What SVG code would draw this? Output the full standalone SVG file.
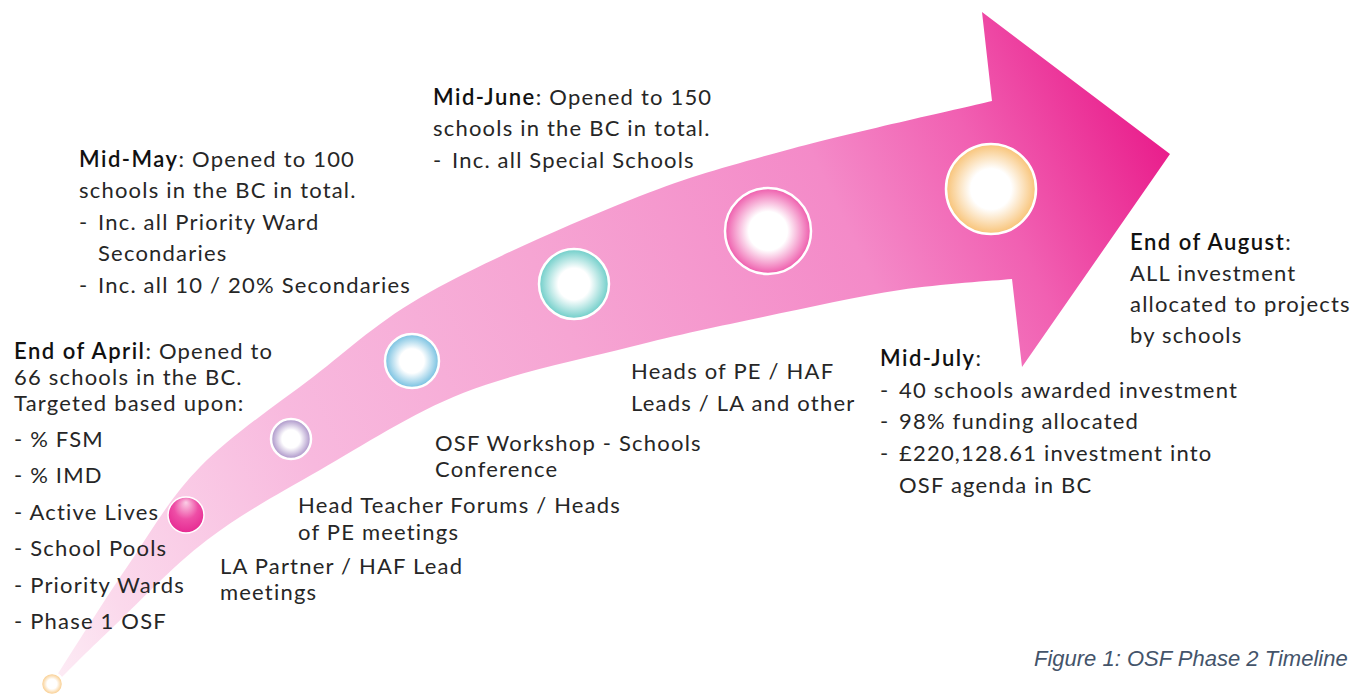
<svg xmlns="http://www.w3.org/2000/svg" width="1355" height="695" viewBox="0 0 1355 695">
<style>
text{font-family:Lato,"Noto Sans",sans-serif;font-size:22px;letter-spacing:1.2px;fill:#262626}
.b{font-weight:600;fill:#111;letter-spacing:1.5px}
.cap{font-family:"Liberation Sans",Arial,sans-serif;font-style:italic;font-size:22px;letter-spacing:0;fill:#44546a}
.ring{stroke:#fff;stroke-width:2.5}
</style>
<defs>
<linearGradient id="ag" gradientUnits="userSpaceOnUse" x1="50" y1="690" x2="1170" y2="154">
<stop offset="0" stop-color="#fdeef6"/>
<stop offset="0.08" stop-color="#fbd9ec"/>
<stop offset="0.27" stop-color="#f8b9de"/>
<stop offset="0.5" stop-color="#f6a5d3"/>
<stop offset="0.74" stop-color="#f48ac8"/>
<stop offset="0.86" stop-color="#f160b2"/>
<stop offset="1" stop-color="#e91e8c"/>
</linearGradient>
<radialGradient id="gOr"><stop offset="0.45" stop-color="#fff"/><stop offset="1" stop-color="#f8c377"/></radialGradient>
<radialGradient id="gPk"><stop offset="0.45" stop-color="#fff"/><stop offset="1" stop-color="#ee5aab"/></radialGradient>
<radialGradient id="gTl"><stop offset="0.45" stop-color="#fff"/><stop offset="1" stop-color="#6dcdc8"/></radialGradient>
<radialGradient id="gBl"><stop offset="0.45" stop-color="#fff"/><stop offset="1" stop-color="#74bfe0"/></radialGradient>
<radialGradient id="gPu"><stop offset="0.45" stop-color="#fff"/><stop offset="1" stop-color="#a890c6"/></radialGradient>
<radialGradient id="gMg" cx="0.5" cy="0.4" r="0.6" fx="0.5" fy="0.15"><stop offset="0" stop-color="#fbcfe6"/><stop offset="0.55" stop-color="#ee4ea6"/><stop offset="1" stop-color="#e62a92"/></radialGradient>
</defs>
<g id="arrow">
<path fill="url(#ag)" d="M52,683 C64.5,663.7 102.3,603 127,567 C151.7,531 169,498.7 200,467 C231,435.3 274.7,406.2 313,377 C351.3,347.8 377.2,321.5 430,292 C482.8,262.5 570.5,223.7 630,200 C689.5,176.3 726.7,166.5 787,150 C847.3,133.5 957.8,109.2 992,101 L982,12 L1170,154 L1022,367 L1012,279 C993.3,280.8 941.5,283.7 900,290 C858.5,296.3 808,307.5 763,317 C718,326.5 680,334.3 630,347 C580,359.7 514.7,372.5 463,393 C411.3,413.5 362.7,445.5 320,470 C277.3,494.5 242,513.3 207,540 C172,566.7 134.2,607.2 110,630 C85.8,652.8 70,669.2 62,677 L54,687 Z"/>
</g>
<g id="milestones">
<circle id="m0" class="ring" cx="52" cy="684" r="11" fill="url(#gOr)"/>
<circle id="m1" cx="186" cy="515" r="18" fill="url(#gMg)" stroke="#fff" stroke-width="1.5"/>
<circle id="m2" class="ring" cx="291" cy="439" r="20" fill="url(#gPu)"/>
<circle id="m3" class="ring" cx="412" cy="361" r="27" fill="url(#gBl)"/>
<circle id="m4" class="ring" cx="574" cy="284" r="35" fill="url(#gTl)"/>
<circle id="m5" class="ring" cx="768" cy="231" r="43" fill="url(#gPk)"/>
<circle id="m6" class="ring" cx="991" cy="189" r="45" fill="url(#gOr)"/>
</g>
<g id="april">
<text x="14" y="359"><tspan class="b">End of April</tspan>: Opened to</text>
<text x="14" y="385">66 schools in the BC.</text>
<text x="14" y="411">Targeted based upon:</text>
<text x="14" y="447">- % FSM</text>
<text x="14" y="483">- % IMD</text>
<text x="14" y="520">- Active Lives</text>
<text x="14" y="556">- School Pools</text>
<text x="14" y="593">- Priority Wards</text>
<text x="14" y="629">- Phase 1 OSF</text>
</g>
<g id="may">
<text x="79" y="167"><tspan class="b">Mid-May</tspan>: Opened to 100</text>
<text x="79" y="198">schools in the BC in total.</text>
<text x="79" y="230">-</text><text x="98" y="230">Inc. all Priority Ward</text>
<text x="98" y="261">Secondaries</text>
<text x="79" y="293">-</text><text x="98" y="293">Inc. all 10 / 20% Secondaries</text>
</g>
<g id="june">
<text x="433" y="105"><tspan class="b">Mid-June</tspan>: Opened to 150</text>
<text x="433" y="136">schools in the BC in total.</text>
<text x="433" y="168">-</text><text x="452" y="168">Inc. all Special Schools</text>
</g>
<g id="la">
<text x="220" y="574">LA Partner / HAF Lead</text>
<text x="220" y="600">meetings</text>
</g>
<g id="htf">
<text x="298" y="513">Head Teacher Forums / Heads</text>
<text x="298" y="540">of PE meetings</text>
</g>
<g id="osf">
<text x="435" y="451">OSF Workshop - Schools</text>
<text x="435" y="477">Conference</text>
</g>
<g id="heads">
<text x="631" y="379">Heads of PE / HAF</text>
<text x="631" y="411">Leads / LA and other</text>
</g>
<g id="july">
<text x="880" y="366"><tspan class="b">Mid-July</tspan>:</text>
<text x="880" y="398">-</text><text x="899" y="398">40 schools awarded investment</text>
<text x="880" y="429">-</text><text x="899" y="429">98% funding allocated</text>
<text x="880" y="461">-</text><text x="899" y="461">£220,128.61 investment into</text>
<text x="899" y="493">OSF agenda in BC</text>
</g>
<g id="august">
<text x="1130" y="250"><tspan class="b">End of August</tspan>:</text>
<text x="1130" y="281">ALL investment</text>
<text x="1130" y="312">allocated to projects</text>
<text x="1130" y="343">by schools</text>
</g>
<text class="cap" x="1034" y="666">Figure 1: OSF Phase 2 Timeline</text>
</svg>
